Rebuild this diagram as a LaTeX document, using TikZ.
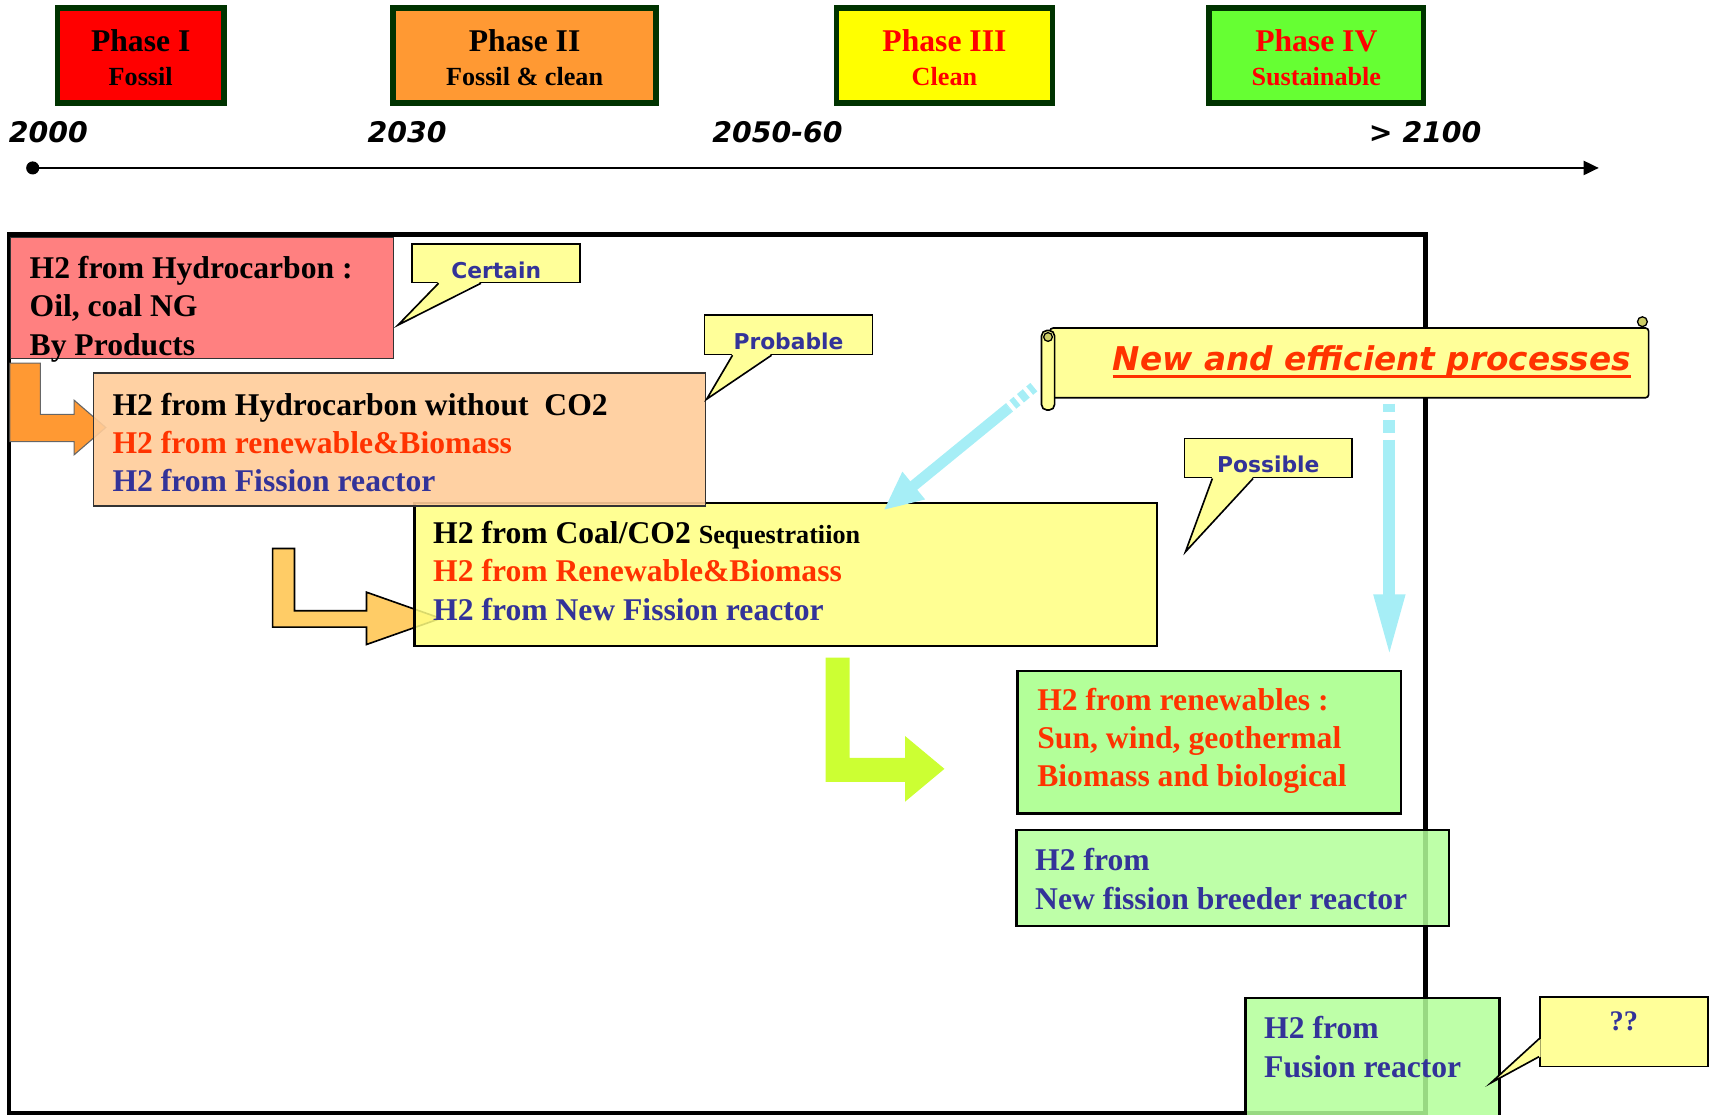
\documentclass[tikz,border=0pt]{standalone}
\usepackage{fontspec}
\setmainfont{Liberation Serif}
\newfontfamily\comicfont{DejaVu Sans}
\usetikzlibrary{arrows.meta}
\usetikzlibrary{positioning}
\tikzset{>=latex}

\definecolor{phasegreen}{HTML}{003300}
\definecolor{phaseone}{HTML}{FF0000}
\definecolor{phasetwo}{HTML}{FF9933}
\definecolor{phasethree}{HTML}{FFFF00}
\definecolor{phasefour}{HTML}{66FF33}
\definecolor{hcred}{HTML}{FF8080}
\definecolor{hcpeach}{HTML}{FFCC99}
\definecolor{coalyellow}{HTML}{FFFF80}
\definecolor{renewgreen}{HTML}{B3FF99}
\definecolor{tagyellow}{HTML}{FFFF99}
\definecolor{txtred}{HTML}{FF3300}
\definecolor{txtblue}{HTML}{333399}
\definecolor{skyblue}{HTML}{A6EEF6}
\definecolor{limegreen}{HTML}{CCFF33}
\definecolor{bentorange}{HTML}{FF9933}
\definecolor{bentgold}{HTML}{FFCC66}
\definecolor{curlcol}{HTML}{CCCC66}

\tikzset{
  phase/.style={draw=phasegreen, line width=5pt, minimum width=153pt, minimum height=87pt,
    align=center, inner sep=0pt, text height=55pt, font=\bfseries\fontsize{29}{31}\selectfont},
  year/.style={anchor=west, inner sep=0pt, font=\comicfont\bfseries\itshape\fontsize{26}{26}\selectfont},
  hbox/.style={draw, line width=1.5pt, anchor=north west, inner sep=0pt},
  htext/.style={inner sep=0pt, align=left, font=\bfseries\fontsize{29}{35}\selectfont},
  bubble/.style={draw, line width=1.5pt, fill=tagyellow, minimum width=154pt, minimum height=35pt,
    text height=27pt, text depth=0pt, inner sep=0pt, text=txtblue,
    font=\comicfont\bfseries\fontsize{20}{20}\selectfont},
  sky/.style={draw=skyblue, line width=10pt},
}

\begin{document}
\begin{tikzpicture}[x=1pt,y=-1pt]
  \useasboundingbox (0,0) rectangle (1568,1022);

  % phases and time line
  \node[phase, fill=phaseone] (ph1) at (129,51) {Phase I\\{\fontsize{24}{31}\selectfont Fossil}};
  \node[phase, fill=phasetwo, minimum width=241pt] (ph2) at (481,51) {Phase II\\{\fontsize{24}{31}\selectfont Fossil \& clean}};
  \node[phase, fill=phasethree, minimum width=198pt, text=phaseone] (ph3) at (866,51) {Phase III\\{\fontsize{24}{31}\selectfont Clean}};
  \node[phase, fill=phasefour, minimum width=197pt, text=phaseone] (ph4) at (1207,51) {Phase IV\\{\fontsize{24}{31}\selectfont Sustainable}};

  \node[year] (y2000) at (8,121) {2000};
  \node[year] (y2030) at (337,121) {2030};
  \node[year] (y2050) at (653,121) {2050-60};
  \node[year] (y2100) at (1255,121) {> 2100};

  \node[circle, fill, inner sep=0pt, minimum size=12pt] (t0) at (30,154) {};
  \coordinate (t1) at (1466,154);
  \draw[line width=2pt, -{Triangle[length=14pt,width=13pt]}] (t0) -- (t1);

  % frame
  \draw[line width=4pt] (8,215) rectangle (1307,1021);

  % coal box and its bent arrow
  \filldraw[fill=bentgold, draw=black, line width=1.5pt] (250,503) -- (270,503) -- (270,560) -- (336,560)
    -- (336,543) -- (404,567) -- (336,591) -- (336,575) -- (250,575) -- cycle;
  \node[hbox, line width=2pt, fill=coalyellow, fill opacity=0.85, minimum width=681pt, minimum height=131pt] (coal) at (379,460) {};
  \node[htext, below right=18pt and 18pt of coal.north west] (coal-t)
    {H2 from Coal/CO2 {\fontsize{24}{35}\selectfont Sequestratiion}\\
     \textcolor{txtred}{H2 from Renewable\&Biomass}\\
     \textcolor{txtblue}{H2 from New Fission reactor}};

  % hydrocarbon boxes
  \node[hbox, draw=black!80, fill=hcred, minimum width=351pt, minimum height=111pt] (hc) at (9,217) {};
  \node[htext, below right=18pt and 18pt of hc.north west] (hc-t)
    {H2 from Hydrocarbon :\\Oil, coal NG\\By Products};

  \filldraw[fill=bentorange, draw=black!60, line width=1pt] (9,333) -- (37,333) -- (37,380) -- (68,380)
    -- (68,367) -- (97,392) -- (68,417) -- (68,405) -- (9,405) -- cycle;
  \node[hbox, draw=black!80, fill=hcpeach, fill opacity=0.9, minimum width=561pt, minimum height=122pt] (hcc) at (85,341) {};
  \node[htext, below right=19pt and 18pt of hcc.north west] (hcc-t)
    {H2 from Hydrocarbon without \ CO2\\
     \textcolor{txtred}{H2 from renewable\&Biomass}\\
     \textcolor{txtblue}{H2 from Fission reactor}};

  % scroll
  \node[hbox, fill=tagyellow, rounded corners=3pt, minimum width=549pt, minimum height=64pt] (scroll) at (962,300) {};
  \draw[line width=1.5pt, fill=tagyellow, rounded corners=5pt] (955,303) rectangle (967,376);
  \draw[line width=1.2pt, fill=curlcol] (961,309) circle (4pt);
  \draw[line width=1.2pt, fill=curlcol] (1506,295) circle (4.5pt);
  \node[inner sep=0pt, text=txtred, font=\comicfont\bfseries\itshape\fontsize{30}{30}\selectfont] (nep) at (1258,331)
    {New and efficient processes};
  \draw[txtred, line width=3pt] ([yshift=-6pt]nep.base west) -- ([yshift=-6pt]nep.base east);

  % sky arrows
  \coordinate (d0) at (948,355);
  \coordinate (d1) at (925,374);
  \coordinate (d2) at (810,468);
  \draw[sky, dash pattern=on 5pt off 4pt on 7pt off 4pt] (d0) -- (d1);
  \draw[sky, -{Triangle[length=36pt,width=30pt]}] (d1) -- (d2);
  \coordinate (v0) at (1274,370);
  \coordinate (v1) at (1274,403);
  \coordinate (v2) at (1274,603);
  \draw[sky, line width=11pt, dash pattern=on 8pt off 7pt on 12pt off 6pt] (v0) -- (v1);
  \draw[sky, line width=11pt, -{Triangle[length=58pt,width=26pt]}] (v1) -- (v2);

  % lime arrow
  \fill[limegreen] (757,603) -- (779,603) -- (779,695) -- (830,695) -- (830,675) -- (866,705)
    -- (830,735) -- (830,717) -- (757,717) -- cycle;

  % renewables
  \node[hbox, line width=2pt, fill=renewgreen, minimum width=352pt, minimum height=131pt] (ren) at (932,614) {};
  \node[htext, text=txtred, below right=17pt and 19pt of ren.north west] (ren-t)
    {H2 from renewables :\\Sun, wind, geothermal\\Biomass and biological};
  \node[hbox, line width=2pt, fill=renewgreen, fill opacity=0.85, minimum width=397pt, minimum height=88pt] (brd) at (931,760) {};
  \node[htext, text=txtblue, below right=18pt and 18pt of brd.north west] (brd-t)
    {H2 from\\New fission breeder reactor};
  \node[hbox, line width=2pt, fill=renewgreen, fill opacity=0.85, minimum width=233pt, minimum height=130pt] (fus) at (1141,914) {};
  \node[htext, text=txtblue, below right=18pt and 18pt of fus.north west] (fus-t)
    {H2 from\\Fusion reactor};

  % callouts
  \node[bubble] (cert) at (455,241.5) {Certain};
  \node[bubble, minimum height=36pt] (prob) at (723,307) {Probable};
  \node[bubble, minimum height=36pt] (poss) at (1163,420) {Possible};
  \foreach \n/\p/\q/\tx/\ty in {cert/.16/.41/365/298, prob/.17/.40/648/366, poss/.17/.41/1087/506} {
    \path (\n.south west) -- coordinate[pos=\p] (\n-a) coordinate[pos=\q] (\n-b) (\n.south east);
    \fill[tagyellow] ([yshift=1.5pt]\n-a) -- (\tx,\ty) -- ([yshift=1.5pt]\n-b) -- cycle;
    \draw[line width=1.5pt] (\n-a) -- (\tx,\ty) -- (\n-b);
  }
  \node[bubble, minimum height=64pt, text height=18pt, text depth=20pt,
    font=\bfseries\fontsize{26}{26}\selectfont] (qq) at (1489,946) {??};
  \path (qq.north west) -- coordinate[pos=.6] (qq-a) coordinate[pos=.85] (qq-b) (qq.south west);
  \fill[tagyellow] ([xshift=1.5pt]qq-a) -- (1367,993) -- ([xshift=1.5pt]qq-b) -- cycle;
  \draw[line width=1.5pt] (qq-a) -- (1367,993) -- (qq-b);
\end{tikzpicture}
\end{document}
